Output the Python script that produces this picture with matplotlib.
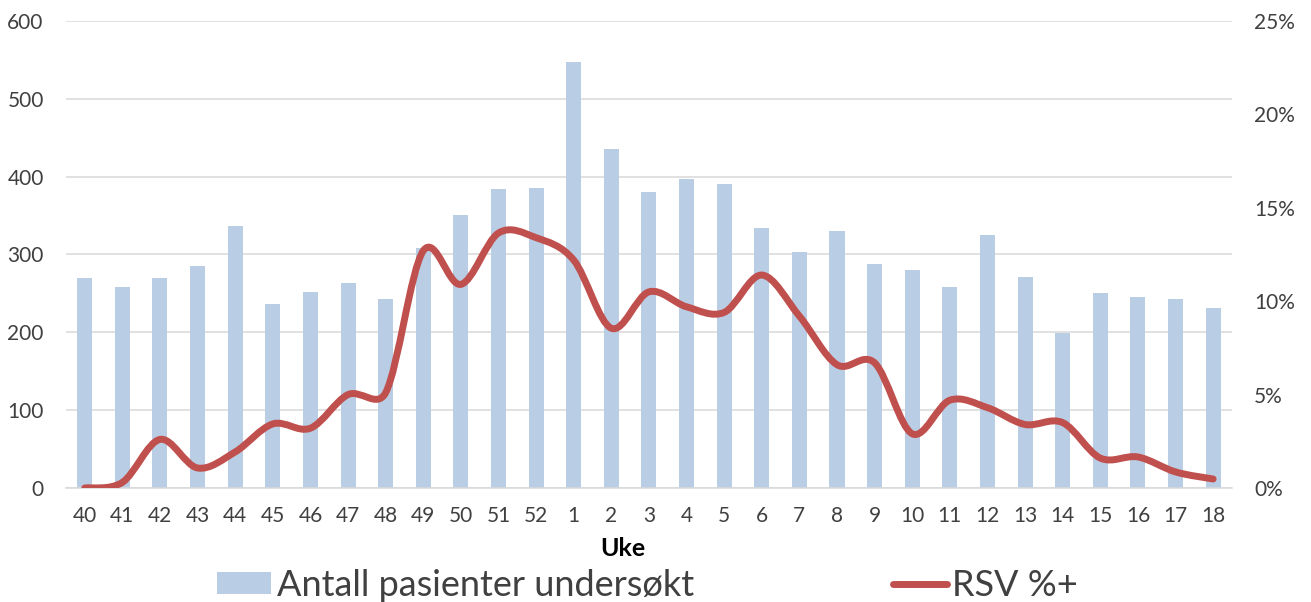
import matplotlib

matplotlib.use("Agg")
import matplotlib.pyplot as plt  # noqa: E402
import numpy as np  # noqa: E402
from matplotlib.patches import PathPatch  # noqa: E402
from matplotlib.path import Path  # noqa: E402
from matplotlib.lines import Line2D  # noqa: E402
from matplotlib.ticker import FuncFormatter  # noqa: E402

# week labels (season 40 -> 18)
weeks = [str(w) for w in list(range(40, 53)) + list(range(1, 19))]

# number of patients tested per week
patients = [270, 258, 270, 285, 337, 237, 252, 264, 243, 308, 351, 384, 386,
            547, 436, 380, 397, 390, 334, 303, 330, 288, 280, 258, 325, 271,
            199, 250, 246, 243, 231]

# RSV positive share (%)
rsv_pct = [0.0, 0.3, 2.6, 1.07, 1.93, 3.43, 3.2, 5.0, 5.1, 12.7, 10.9, 13.65,
           13.4, 12.2, 8.55, 10.5, 9.7, 9.4, 11.4, 9.2, 6.6, 6.7, 2.9, 4.7,
           4.3, 3.4, 3.5, 1.6, 1.66, 0.86, 0.48]

BAR_COLOR = "#B9CDE5"
LINE_COLOR = "#C0504D"
GRID_COLOR = "#D9D9D9"
TEXT_COLOR = "#404040"

plt.rcParams["font.family"] = ["Lato", "DejaVu Sans"]


def smooth_path(ax, xs, ys):
    """Excel-like smoothed line: cubic Bezier through every point, with the
    control arms capped at half the segment length (measured on screen)."""
    pts = np.column_stack([xs, ys]).astype(float)
    scr = ax.transData.transform(pts)
    n = len(pts)
    verts = [pts[0]]
    codes = [Path.MOVETO]
    for i in range(n - 1):
        i0 = max(i - 1, 0)
        i3 = min(i + 2, n - 1)
        d12 = np.linalg.norm(scr[i + 1] - scr[i])
        d02 = np.linalg.norm(scr[i + 1] - scr[i0])
        d13 = np.linalg.norm(scr[i3] - scr[i])
        f1 = 1 / 6 if d02 / 6 < d12 / 2 else d12 / (2 * d02)
        f2 = 1 / 6 if d13 / 6 < d12 / 2 else d12 / (2 * d13)
        c1 = pts[i] + (pts[i + 1] - pts[i0]) * f1
        c2 = pts[i + 1] - (pts[i3] - pts[i]) * f2
        verts += [c1, c2, pts[i + 1]]
        codes += [Path.CURVE4] * 3
    return Path(verts, codes)


fig = plt.figure(figsize=(13.11, 6.02), dpi=100)
ax = fig.add_axes([0.0503, 0.1894, 0.8894, 0.7757])
x = np.arange(len(weeks))

ax.bar(x, patients, width=0.4, color=BAR_COLOR, zorder=2)
ax.set_xlim(-0.5, len(weeks) - 0.5)
ax.set_ylim(0, 600)
ax.set_yticks(range(0, 601, 100))
ax.grid(axis="y", color=GRID_COLOR, linewidth=1.1, zorder=0)
ax.set_axisbelow(True)
for side in ["top", "right", "left"]:
    ax.spines[side].set_visible(False)
ax.spines["bottom"].set_color(GRID_COLOR)
ax.spines["bottom"].set_linewidth(1.1)
ax.set_xticks(x)
ax.set_xticklabels(weeks)
ax.tick_params(axis="both", length=0, labelsize=15, colors=TEXT_COLOR)
ax.tick_params(axis="x", pad=13)
ax.tick_params(axis="y", pad=16)
ax.set_xlabel("Uke", fontsize=18, fontweight="bold", color="black")
ax.xaxis.set_label_coords(0.478, -0.104)

ax2 = ax.twinx()
ax2.set_ylim(0, 25)
ax2.set_yticks(range(0, 26, 5))
ax2.yaxis.set_major_formatter(FuncFormatter(lambda v, _: f"{v:.0f}%"))
ax2.tick_params(axis="y", length=0, labelsize=15, colors=TEXT_COLOR, pad=16)
for side in ["top", "right", "left", "bottom"]:
    ax2.spines[side].set_visible(False)
ax2.add_patch(PathPatch(smooth_path(ax2, x, rsv_pct), facecolor="none",
                        edgecolor=LINE_COLOR, linewidth=5,
                        capstyle="round", joinstyle="round", zorder=3))

handles = [
    plt.Rectangle((0, 0), 1, 1, facecolor=BAR_COLOR),
    Line2D([0], [0], color=LINE_COLOR, linewidth=5, solid_capstyle="round"),
]
fig.legend(handles, ["Antall pasienter undersøkt", "RSV %+"],
           loc="center", bbox_to_anchor=(0.494, 0.028), ncol=2, frameon=False,
           fontsize=26, labelcolor=TEXT_COLOR, handlelength=1.5,
           handleheight=0.55, handletextpad=0.15, columnspacing=5.5,
           borderpad=0)

fig.savefig("out.png", dpi=100)
